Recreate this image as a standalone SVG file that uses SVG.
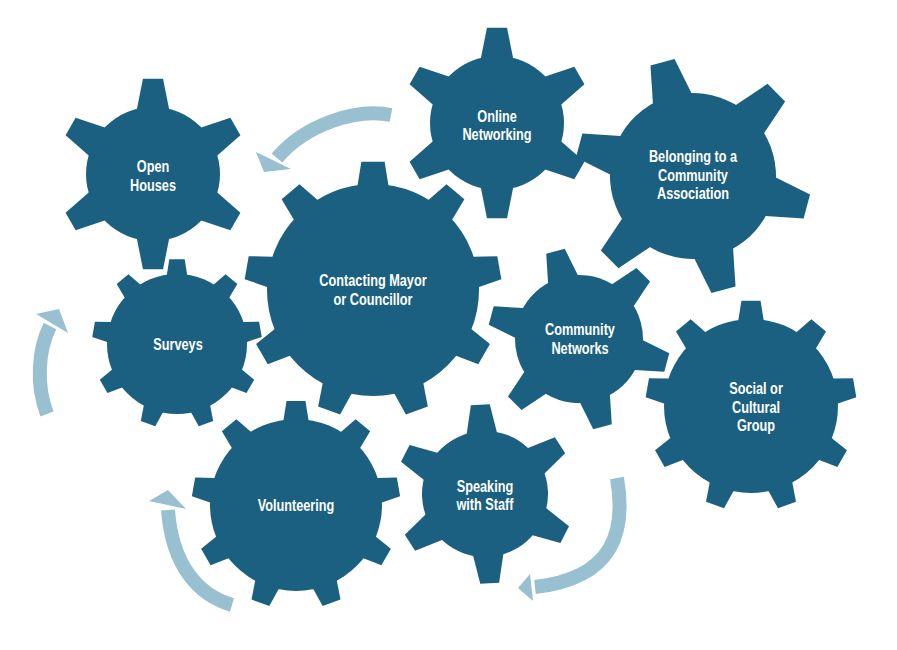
<svg xmlns="http://www.w3.org/2000/svg" xmlns:xlink="http://www.w3.org/1999/xlink" width="897" height="650" viewBox="0 0 897 650">
<style>
.gear{fill:#1B6080}
.lbl{fill:#ffffff;font-family:"Liberation Sans",Arial,sans-serif;font-weight:bold;font-size:16.5px;text-anchor:middle}
.band{fill:none;stroke:#98C0D0;stroke-width:14}
.head{fill:#98C0D0}
</style>
<defs>
<path id="t6" d="M-24,-90 L-24,-97 L-15,-142 L15,-142 L24,-97 L24,-90 Z"/>
<g id="g6">
<circle r="100"/>
<use xlink:href="#t6"/>
<use xlink:href="#t6" transform="rotate(60)"/>
<use xlink:href="#t6" transform="rotate(120)"/>
<use xlink:href="#t6" transform="rotate(180)"/>
<use xlink:href="#t6" transform="rotate(240)"/>
<use xlink:href="#t6" transform="rotate(300)"/>
</g>
<path id="t9" d="M-14.5,-92 L-14.5,-99 L-11,-121 L11,-121 L14.5,-99 L14.5,-92 Z"/>
<g id="g9">
<circle r="100"/>
<use xlink:href="#t9"/>
<use xlink:href="#t9" transform="rotate(40)"/>
<use xlink:href="#t9" transform="rotate(80)"/>
<use xlink:href="#t9" transform="rotate(120)"/>
<use xlink:href="#t9" transform="rotate(160)"/>
<use xlink:href="#t9" transform="rotate(200)"/>
<use xlink:href="#t9" transform="rotate(240)"/>
<use xlink:href="#t9" transform="rotate(280)"/>
<use xlink:href="#t9" transform="rotate(320)"/>
</g>
</defs>
<rect width="897" height="650" fill="#ffffff"/>

<g id="connectors">
<path class="band" d="M391,115 C355,108 305,125 277,158"/>
<polygon class="head" points="256,152 291,169 264,172"/>
<path class="band" d="M47,414 C36,385 38,350 50,326"/>
<polygon class="head" points="36,314 68,333 59,309"/>
<path class="band" d="M232,605 C198,595 172,565 168,510"/>
<polygon class="head" points="149,501 186,509 168,490"/>
<path class="band" d="M617,478 C626,530 615,578 535,587"/>
<polygon class="head" points="530,574 533,601 518,588"/>
</g>

<g id="open-houses">
<use class="gear" xlink:href="#g6" transform="translate(153,174) scale(0.67)"/>
<text class="lbl" transform="translate(153,172) scale(0.77,1)">Open</text>
<text class="lbl" transform="translate(153,190.5) scale(0.77,1)">Houses</text>
</g>

<g id="online-networking">
<use class="gear" xlink:href="#g6" transform="translate(497,123) scale(0.67)"/>
<text class="lbl" transform="translate(497,122) scale(0.77,1)">Online</text>
<text class="lbl" transform="translate(497,139.5) scale(0.77,1)">Networking</text>
</g>

<g id="community-association">
<use class="gear" xlink:href="#g6" transform="translate(693,176) rotate(-15) scale(0.83)"/>
<text class="lbl" transform="translate(693,162) scale(0.77,1)">Belonging to a</text>
<text class="lbl" transform="translate(693,180.5) scale(0.77,1)">Community</text>
<text class="lbl" transform="translate(693,199) scale(0.77,1)">Association</text>
</g>

<g id="contacting-mayor">
<use class="gear" xlink:href="#g9" transform="translate(373,290) scale(1.06)"/>
<text class="lbl" transform="translate(373,286) scale(0.77,1)">Contacting Mayor</text>
<text class="lbl" transform="translate(373,304.5) scale(0.77,1)">or Councillor</text>
</g>

<g id="surveys">
<use class="gear" xlink:href="#g9" transform="translate(177,344) scale(0.70)"/>
<text class="lbl" transform="translate(178,349.5) scale(0.77,1)">Surveys</text>
</g>

<g id="community-networks">
<use class="gear" xlink:href="#g6" transform="translate(579,339) rotate(-15) scale(0.64)"/>
<text class="lbl" transform="translate(580,335) scale(0.77,1)">Community</text>
<text class="lbl" transform="translate(580,354) scale(0.77,1)">Networks</text>
</g>

<g id="social-cultural">
<use class="gear" xlink:href="#g9" transform="translate(751,406) scale(0.87)"/>
<text class="lbl" transform="translate(756,394) scale(0.77,1)">Social or</text>
<text class="lbl" transform="translate(756,412.5) scale(0.77,1)">Cultural</text>
<text class="lbl" transform="translate(756,431) scale(0.77,1)">Group</text>
</g>

<g id="volunteering">
<use class="gear" xlink:href="#g9" transform="translate(296,505) scale(0.86)"/>
<text class="lbl" transform="translate(296,511) scale(0.77,1)">Volunteering</text>
</g>

<g id="speaking-staff">
<use class="gear" xlink:href="#g6" transform="translate(485,494) rotate(-3) scale(0.63)"/>
<text class="lbl" transform="translate(485,491.5) scale(0.77,1)">Speaking</text>
<text class="lbl" transform="translate(485,510) scale(0.77,1)">with Staff</text>
</g>
</svg>
